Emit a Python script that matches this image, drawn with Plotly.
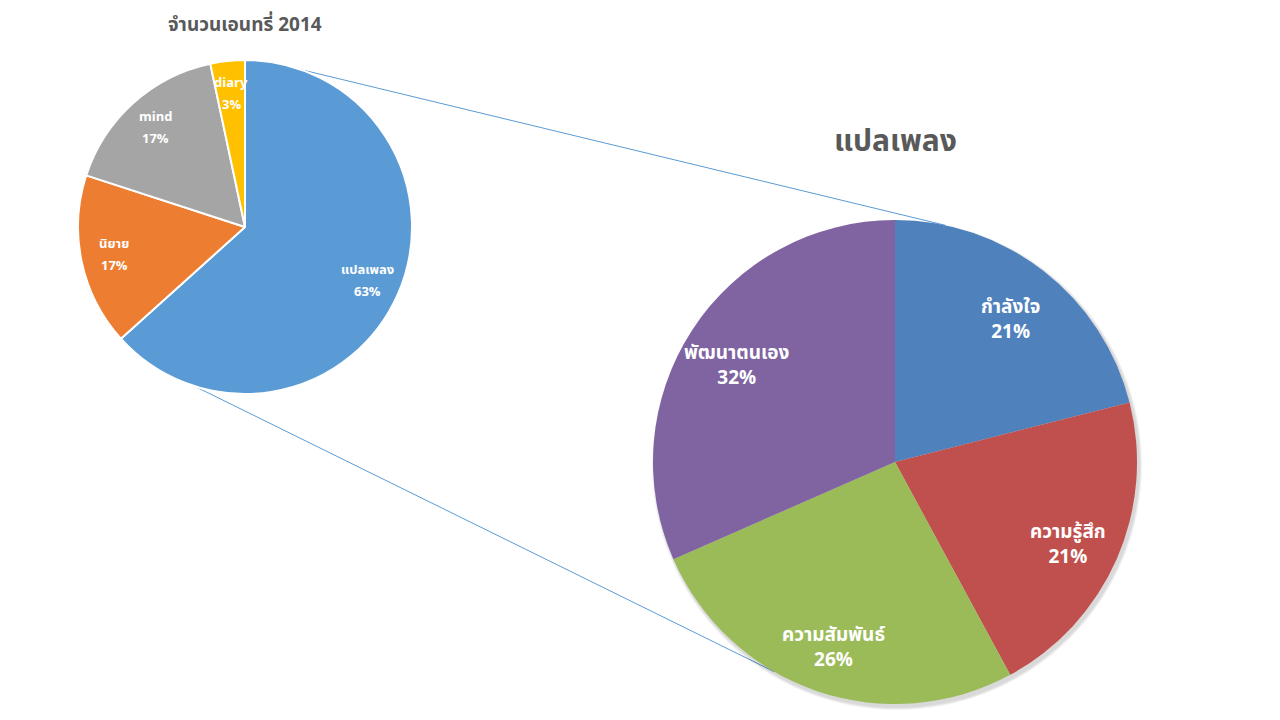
import math
import plotly.graph_objects as go

# Data
main_labels = ["แปลเพลง", "นิยาย", "mind", "diary"]
main_values = [19, 5, 5, 1]
main_colors = ["#5B9BD5", "#ED7D31", "#A5A5A5", "#FFC000"]

sub_labels = ["กำลังใจ", "ความรู้สึก", "ความสัมพันธ์", "พัฒนาตนเอง"]
sub_values = [4, 4, 5, 6]
sub_colors = ["#4F81BD", "#C0504D", "#9BBB59", "#8064A2"]

main_title = "จำนวนเอนทรี่ 2014"
sub_title = "แปลเพลง"

W, H = 1280, 720
FONT = "Tahoma, 'Noto Sans Thai', 'Noto Sans', sans-serif"

# pie geometry (pixels)
c1, r1 = (245, 227), 167
c2, r2 = (895, 462), 242


def dom(c, r):
    return dict(x=[(c[0] - r) / W, (c[0] + r) / W],
                y=[1 - (c[1] + r) / H, 1 - (c[1] - r) / H])


fig = go.Figure()
fig.add_trace(go.Pie(
    labels=main_labels, values=main_values, sort=False, direction="clockwise",
    rotation=0, domain=dom(c1, r1),
    marker=dict(colors=main_colors, line=dict(color="white", width=2)),
    textinfo="none", showlegend=False, hoverinfo="label+value+percent",
))
fig.add_trace(go.Pie(
    labels=sub_labels, values=sub_values, sort=False, direction="clockwise",
    rotation=0, domain=dom(c2, r2),
    marker=dict(colors=sub_colors, line=dict(width=0)),
    textinfo="none", showlegend=False, hoverinfo="label+value+percent",
))


def pt(c, r, ang):
    a = math.radians(ang)
    return (c[0] + r * math.sin(a), c[1] - r * math.cos(a))


annotations = []


def slice_labels(labels, values, c, r, frac, size, gap, dy, split):
    total = sum(values)
    cum = 0
    for lab, v in zip(labels, values):
        mid = (cum + v / 2) / total * 360
        cum += v
        x, y = pt(c, r * frac, mid)
        y += dy
        pct = f"{round(100 * v / total)}%"
        if split:
            items = [(f"<b>{lab}</b>", gap), (f"<b>{pct}</b>", -gap)]
        else:
            items = [(f"<b>{lab}</b><br><b>{pct}</b>", 0)]
        for txt, sh in items:
            annotations.append(dict(
                text=txt, x=x / W, y=1 - y / H, xref="paper", yref="paper",
                xanchor="center", yanchor="middle", yshift=sh, showarrow=False,
                font=dict(family=FONT, size=size, color="white")))


slice_labels(main_labels, main_values, c1, r1, 0.80, 13, 11, 0, True)
slice_labels(sub_labels, sub_values, c2, r2, 0.78, 19, 0, 7, False)

shapes = []
for a1, a2 in [(19.3, 12.0), (197.6, 210.0)]:
    p1 = pt(c1, r1, a1)
    p2 = pt(c2, r2, a2)
    shapes.append(dict(type="line", xref="paper", yref="paper", layer="below",
                       x0=p1[0] / W, y0=1 - p1[1] / H, x1=p2[0] / W, y1=1 - p2[1] / H,
                       line=dict(color="#5B9BD5", width=1)))
# soft shadow under the second pie
for i, op in enumerate([0.05, 0.05, 0.05]):
    rr = r2 + 1 + i
    shapes.append(dict(type="circle", xref="paper", yref="paper", layer="below",
                       x0=(c2[0] - rr + 2) / W, x1=(c2[0] + rr + 2) / W,
                       y0=1 - (c2[1] + rr + 3) / H, y1=1 - (c2[1] - rr + 3) / H,
                       fillcolor=f"rgba(0,0,0,{op})", line=dict(width=0)))

annotations += [
    dict(text=f"<b>{main_title}</b>", x=c1[0] / W, y=1 - 26 / H, xref="paper", yref="paper",
         xanchor="center", yanchor="middle",
         showarrow=False, font=dict(family=FONT, size=19, color="#595959")),
    dict(text=f"<b>{sub_title}</b>", x=c2[0] / W, y=1 - 142 / H, xref="paper", yref="paper",
         xanchor="center", yanchor="middle",
         showarrow=False, font=dict(family=FONT, size=30, color="#595959")),
]

fig.update_layout(
    width=W, height=H, margin=dict(l=0, r=0, t=0, b=0),
    paper_bgcolor="white", plot_bgcolor="white",
    shapes=shapes, annotations=annotations,
)
fig.write_html("out.html", config=dict(displayModeBar=False),
               post_script="document.body.style.margin='0';document.body.style.overflow='hidden';")
